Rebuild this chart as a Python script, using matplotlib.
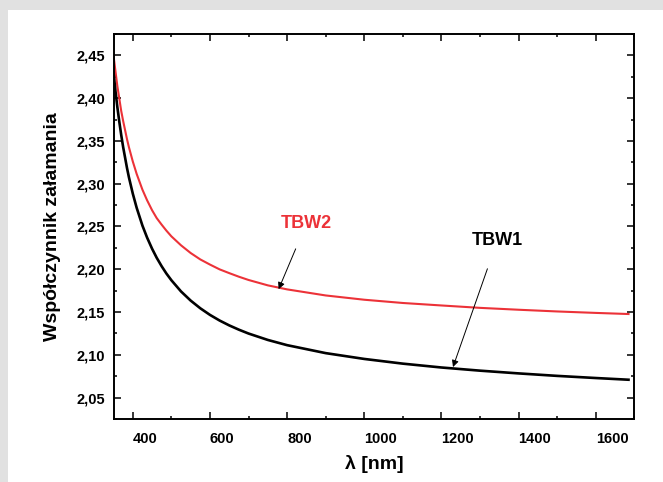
import matplotlib
matplotlib.use("Agg")
import matplotlib.pyplot as plt
from matplotlib.patches import Rectangle
from matplotlib.ticker import MultipleLocator

plt.rcParams["font.family"] = ["Liberation Sans", "DejaVu Sans"]
plt.rcParams["font.weight"] = "bold"

# refractive index vs wavelength
wl_tbw2 = [350, 355, 360, 365, 370, 375, 385, 390, 400, 410, 425, 437, 450,
           462, 475, 487, 500, 525, 550, 575, 600, 625, 650, 675, 700, 750,
           800, 900, 1000, 1100, 1200, 1300, 1400, 1500, 1600, 1685]
n_tbw2 = [2.4500, 2.4317, 2.4140, 2.3995, 2.3850, 2.3733, 2.3520, 2.3426,
          2.3260, 2.3115, 2.2930, 2.2807, 2.2690, 2.2598, 2.2520, 2.2452,
          2.2385, 2.2280, 2.2190, 2.2115, 2.2055, 2.1999, 2.1955, 2.1913,
          2.1875, 2.1812, 2.1765, 2.1694, 2.1644, 2.1606, 2.1577, 2.1549,
          2.1527, 2.1507, 2.1490, 2.1477]

wl_tbw1 = [350, 355, 360, 365, 370, 375, 385, 390, 400, 410, 425, 437, 450,
           462, 475, 487, 500, 525, 550, 575, 600, 625, 650, 675, 700, 750,
           800, 900, 1000, 1100, 1200, 1300, 1400, 1500, 1600, 1685]
n_tbw1 = [2.4300, 2.4086, 2.3894, 2.3725, 2.3569, 2.3428, 2.3183, 2.3074,
          2.2884, 2.2719, 2.2510, 2.2371, 2.2240, 2.2134, 2.2034, 2.1951,
          2.1872, 2.1741, 2.1634, 2.1544, 2.1467, 2.1401, 2.1344, 2.1294,
          2.1249, 2.1174, 2.1113, 2.1020, 2.0952, 2.0897, 2.0852, 2.0815,
          2.0783, 2.0754, 2.0729, 2.0709]

x_ticks = [400, 600, 800, 1000, 1200, 1400, 1600]
x_tick_labels = ["400", "600", "800", "1000", "1200", "1400", "1600"]
y_ticks = [2.05, 2.10, 2.15, 2.20, 2.25, 2.30, 2.35, 2.40, 2.45]
y_tick_labels = ["2,05", "2,10", "2,15", "2,20", "2,25", "2,30", "2,35", "2,40", "2,45"]

RED = "#ec3238"

fig = plt.figure(figsize=(6.63, 4.82), dpi=100, facecolor="#e1e1e1")
fig.add_artist(Rectangle((8 / 663, 0), 1, 1 - 10 / 482, transform=fig.transFigure,
                         facecolor="white", edgecolor="none", zorder=-1))

ax = fig.add_axes([0.1712, 0.1307, 0.7855, 0.7988])
ax.plot(wl_tbw2, n_tbw2, color=RED, lw=1.5, solid_joinstyle="round")
ax.plot(wl_tbw1, n_tbw1, color="black", lw=1.9, solid_joinstyle="round")

ax.set_xlim(350, 1700)
ax.set_ylim(2.025, 2.475)
ax.set_xticks(x_ticks, x_tick_labels)
ax.set_yticks(y_ticks, y_tick_labels)
ax.xaxis.set_minor_locator(MultipleLocator(100))
ax.yaxis.set_minor_locator(MultipleLocator(0.025))

ax.tick_params(which="both", direction="in", top=True, right=True, width=1.1)
ax.tick_params(which="major", length=5)
ax.tick_params(which="minor", length=2.5)
ax.tick_params(axis="x", which="major", labelsize=10.5, pad=9)
ax.tick_params(axis="y", which="major", labelsize=10.5, pad=6)
for lab in ax.get_xticklabels():
    lab.set_horizontalalignment("left")
for sp in ax.spines.values():
    sp.set_linewidth(1.4)

ax.set_xlabel("λ [nm]", fontsize=14, fontweight="bold", labelpad=7)
ax.set_ylabel("Współczynnik załamania", fontsize=14, fontweight="bold", labelpad=11)

ax.annotate("TBW2", xy=(778, 2.1767), xytext=(850, 2.2535), color=RED,
            fontsize=13, fontweight="bold", ha="center", va="center",
            arrowprops=dict(arrowstyle="-|>", color="black", lw=0.7,
                            mutation_scale=10, shrinkA=11, shrinkB=0))
ax.annotate("TBW1", xy=(1230, 2.0857), xytext=(1345, 2.2337), color="black",
            fontsize=13, fontweight="bold", ha="center", va="center",
            arrowprops=dict(arrowstyle="-|>", color="black", lw=0.7,
                            mutation_scale=10, shrinkA=13, shrinkB=0))

fig.savefig("out.png", dpi=100, facecolor=fig.get_facecolor())
